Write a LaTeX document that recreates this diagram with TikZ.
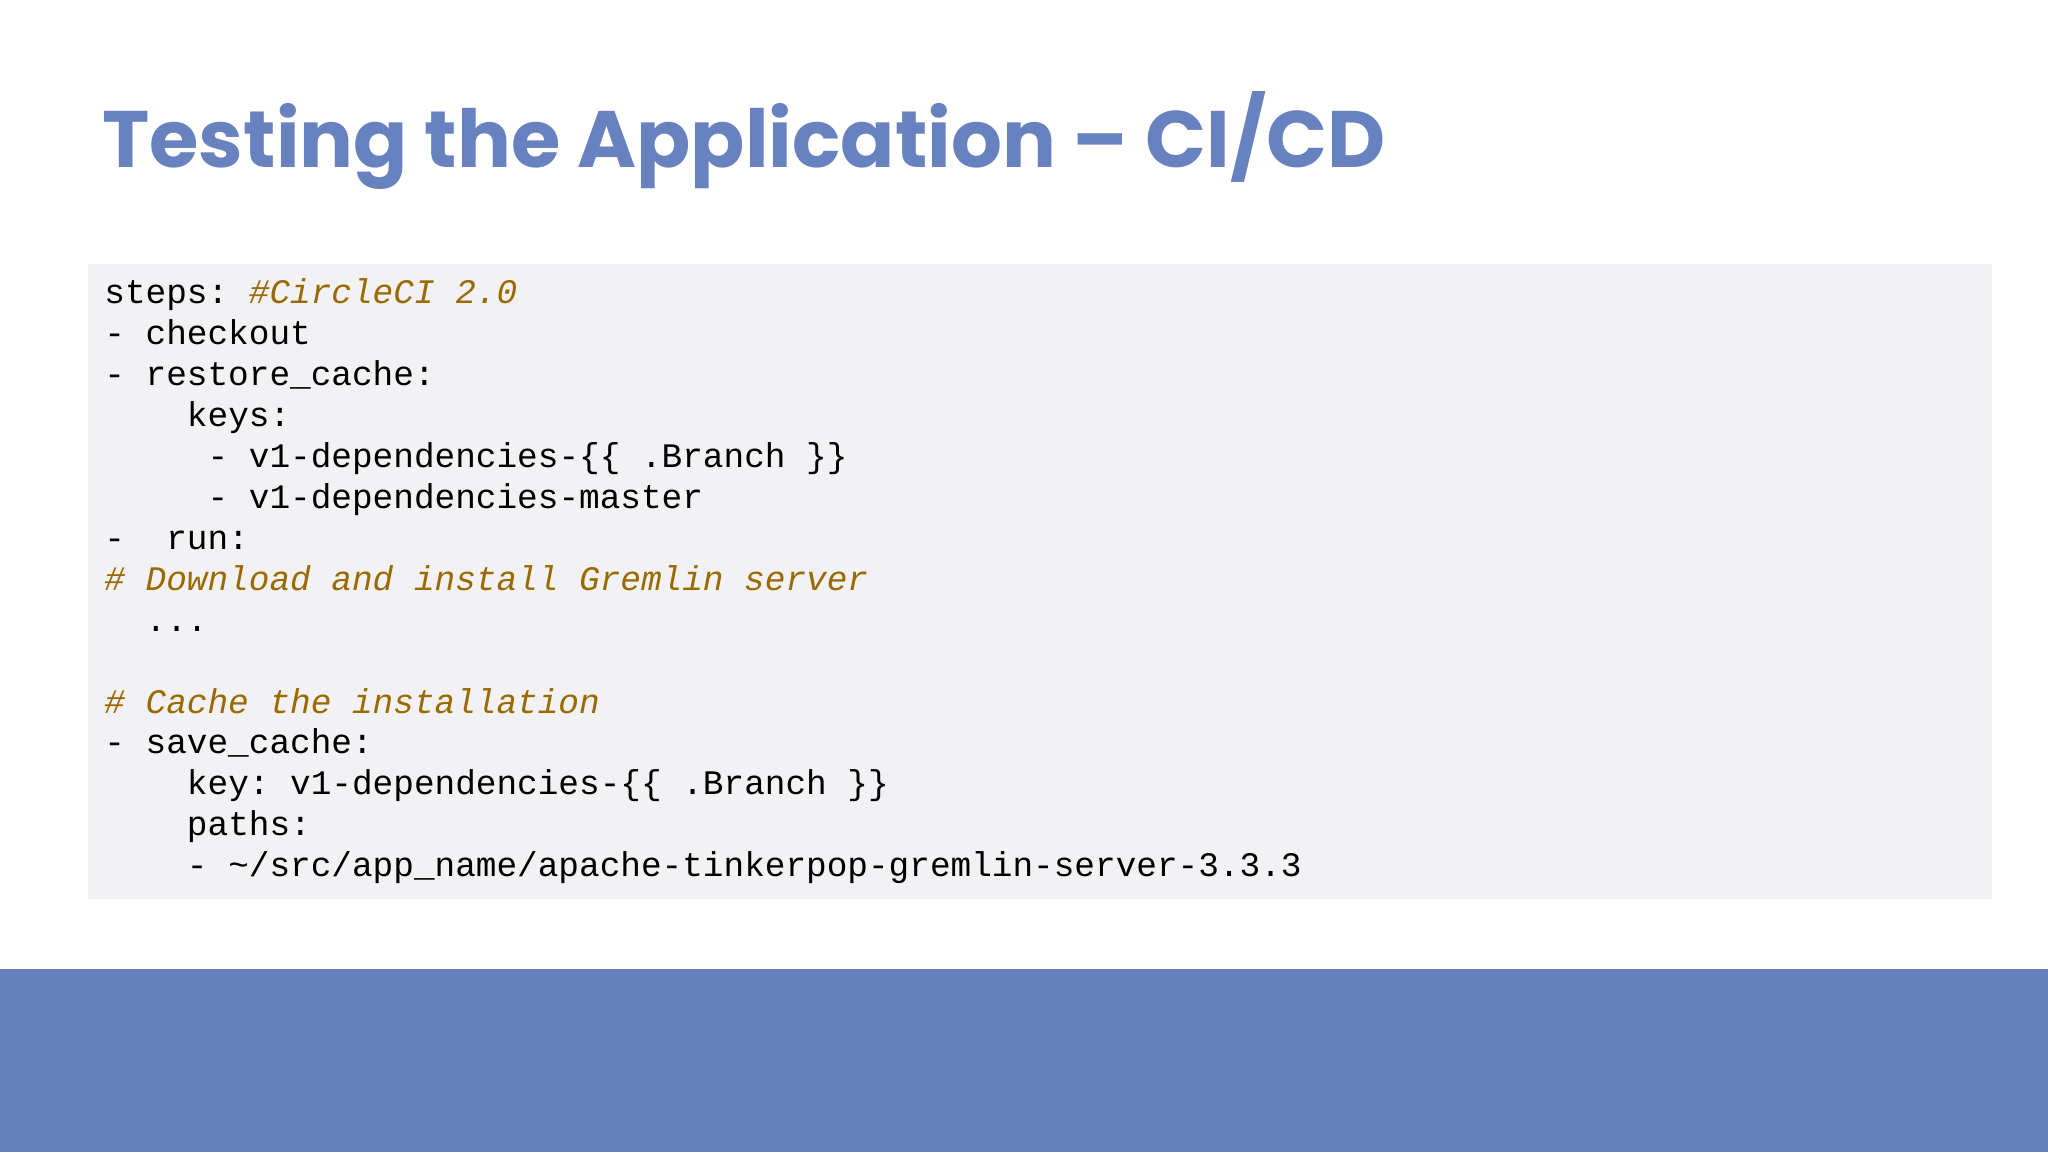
\documentclass[tikz,border=0pt]{standalone}
\usepackage{fontspec}
\setmainfont{Poppins}
\setmonofont{Liberation Mono}
\definecolor{titleblue}{HTML}{6782BE}
\definecolor{codebg}{HTML}{F2F2F4}
\definecolor{cmt}{HTML}{9A6A00}
\begin{document}
\begin{tikzpicture}[x=1pt,y=1pt,
  code/.style={anchor=base west,inner sep=0pt,font=\fontsize{17.2}{20}\ttfamily},
  comment/.style={code,text=cmt,font=\fontsize{17.2}{20}\ttfamily\itshape}]
\useasboundingbox (0,0) rectangle (1024,576);
\fill[white] (0,0) rectangle (1024,576);
\fill[titleblue!98!black] (0,0) rectangle (1024,91.5);
\fill[codebg] (43.8,126.5) rectangle (996,444);
\node[anchor=base west,inner sep=0pt,text=titleblue,font=\fontsize{40}{44}\selectfont\bfseries] (title) at (51,492) {Testing the Application – CI/CD};
\node[code] (l0) at (52,424) {steps: \textcolor{cmt}{\itshape \#CircleCI 2.0}};
\node[code] (l1) at (52,403.55) {- checkout};
\node[code] (l2) at (52,383.1) {- restore\_cache:};
\node[code] (l3) at (52,362.65) {\ \ \ \ keys:};
\node[code] (l4) at (52,342.2) {\ \ \ \ \ - v1-dependencies-\{\{ .Branch \}\}};
\node[code] (l5) at (52,321.75) {\ \ \ \ \ - v1-dependencies-master};
\node[code] (l6) at (52,301.3) {-\ \ run:};
\node[comment] (l7) at (52,280.85) {\# Download and install Gremlin server};
\node[code] (l8) at (52,260.4) {\ \ ...};
\node[comment] (l10) at (52,219.5) {\# Cache the installation};
\node[code] (l11) at (52,199.05) {- save\_cache:};
\node[code] (l12) at (52,178.6) {\ \ \ \ key: v1-dependencies-\{\{ .Branch \}\}};
\node[code] (l13) at (52,158.15) {\ \ \ \ paths:};
\node[code] (l14) at (52,137.7) {\ \ \ \ - \textasciitilde/src/app\_name/apache-tinkerpop-gremlin-server-3.3.3};
\end{tikzpicture}
\end{document}
